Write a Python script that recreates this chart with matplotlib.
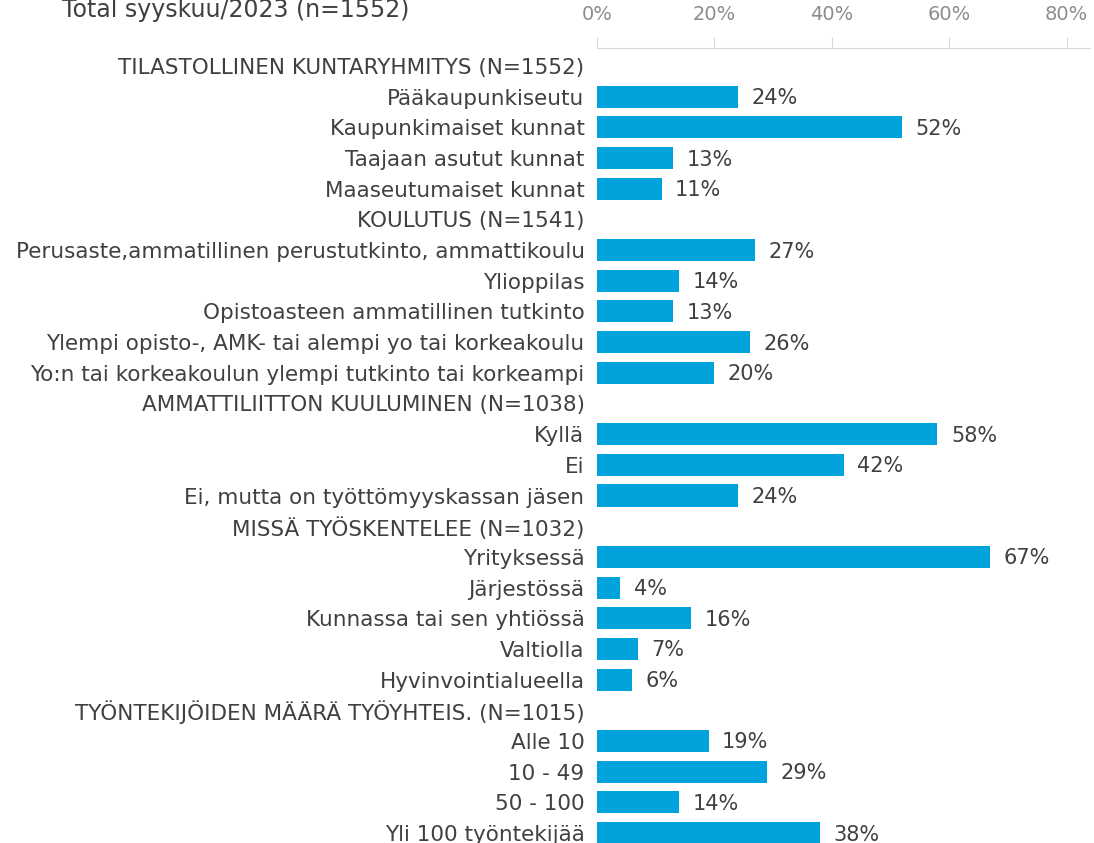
import matplotlib.pyplot as plt
import numpy as np

# rivit ylhäältä alas; None = otsikkorivi ilman palkkia
labels = [
    "TILASTOLLINEN KUNTARYHMITYS (N=1552)",
    "Pääkaupunkiseutu",
    "Kaupunkimaiset kunnat",
    "Taajaan asutut kunnat",
    "Maaseutumaiset kunnat",
    "KOULUTUS (N=1541)",
    "Perusaste,ammatillinen perustutkinto, ammattikoulu",
    "Ylioppilas",
    "Opistoasteen ammatillinen tutkinto",
    "Ylempi opisto-, AMK- tai alempi yo tai korkeakoulu",
    "Yo:n tai korkeakoulun ylempi tutkinto tai korkeampi",
    "AMMATTILIITTON KUULUMINEN (N=1038)",
    "Kyllä",
    "Ei",
    "Ei, mutta on työttömyyskassan jäsen",
    "MISSÄ TYÖSKENTELEE (N=1032)",
    "Yrityksessä",
    "Järjestössä",
    "Kunnassa tai sen yhtiössä",
    "Valtiolla",
    "Hyvinvointialueella",
    "TYÖNTEKIJÖIDEN MÄÄRÄ TYÖYHTEIS. (N=1015)",
    "Alle 10",
    "10 - 49",
    "50 - 100",
    "Yli 100 työntekijää",
]
values = [
    None, 24, 52, 13, 11,
    None, 27, 14, 13, 26, 20,
    None, 58, 42, 24,
    None, 67, 4, 16, 7, 6,
    None, 19, 29, 14, 38,
]
title = "Total syyskuu/2023 (n=1552)"
xticks = [0, 20, 40, 60, 80]

bar_color = "#00A3DB"
text_color = "#404040"

fig = plt.figure(figsize=(10.94, 8.43), dpi=100)
ax = fig.add_axes([597 / 1094, 0.0, (1090 - 597) / 1094, 1 - 48 / 843])

y = np.arange(len(labels))
for yi, v in zip(y, values):
    if v is None:
        continue
    ax.barh(yi, v, height=0.72, color=bar_color)
    ax.text(v + 2.3, yi + 0.05, f"{v}%", va="center", ha="left",
            fontsize=15, color=text_color)

ax.set_xlim(0, (1090 - 597) / 5.87)
ax.set_ylim(25 + (843 - 833) / 30.68, -(66 - 48) / 30.68)

ax.set_yticks(y)
ax.set_yticklabels(labels, fontsize=15.5, color=text_color)
ax.tick_params(axis="y", length=0, pad=9)

ax.xaxis.tick_top()
ax.set_xticks(xticks)
ax.set_xticklabels([f"{t}%" for t in xticks], fontsize=14, color="#8c8c8c")
ax.tick_params(axis="x", direction="out", length=8, color="#d9d9d9", pad=9)

for s in ["right", "bottom", "left"]:
    ax.spines[s].set_visible(False)
ax.spines["top"].set_color("#d9d9d9")

fig.text(62 / 1094, 1 - 10 / 843, title, fontsize=17, color=text_color,
         ha="left", va="center")

fig.savefig("out.png", dpi=100)
